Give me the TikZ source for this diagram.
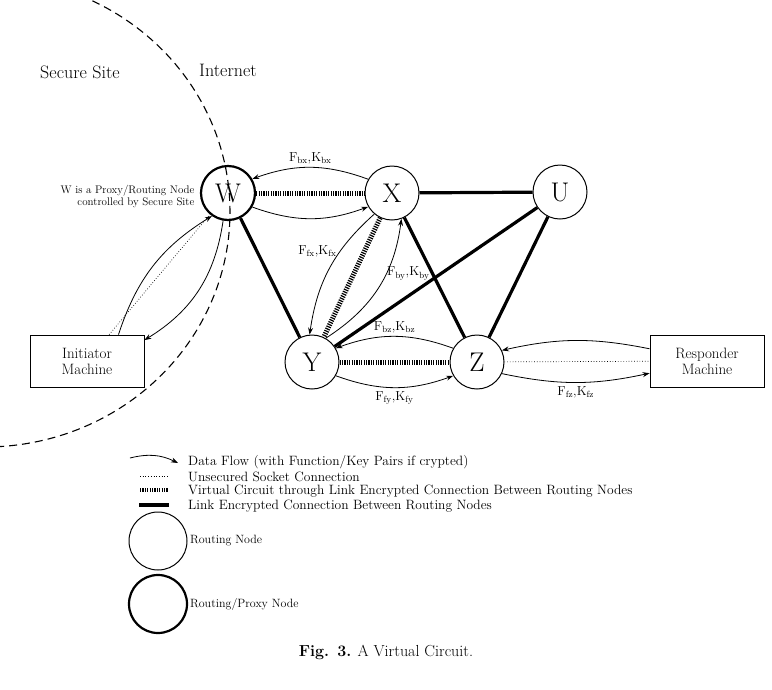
\documentclass[tikz,border=0pt]{standalone}
\usetikzlibrary{arrows.meta}
\begin{document}
\begin{tikzpicture}[x=1pt,y=-1pt,
 rn/.style={circle,draw,line width=1pt,minimum size=54pt,inner sep=0pt,font=\fontsize{27}{27}\selectfont},
 pn/.style={rn,line width=2.2pt},
 box/.style={draw,line width=0.8pt,minimum width=114pt,minimum height=52pt,align=center,font=\fontsize{15}{16}\selectfont},
 vc/.style={line width=5pt,dash pattern=on 1.2pt off 1.2pt},
 le/.style={line width=3.2pt},
 us/.style={line width=0.7pt,dotted},
 df/.style={-{Stealth[length=7pt,width=5pt]},line width=0.8pt},
 lab/.style={font=\fontsize{13}{13}\selectfont},
 lg/.style={font=\fontsize{13.5}{13}\selectfont,anchor=west,inner sep=0pt}]
\useasboundingbox (0,0) rectangle (772,689);
\draw[line width=1.1pt,dash pattern=on 8pt off 5pt] plot[domain=64:-88,samples=80,smooth] ({-15+245*cos(\x)},{212-235*sin(\x)});
\node[font=\fontsize{18}{18}\selectfont] (ss) at (80,72) {Secure Site};
\node[font=\fontsize{18}{18}\selectfont] (in) at (228,70) {Internet};
\node[font=\fontsize{11}{12}\selectfont,align=right,anchor=east] (wl) at (198,196) {W is a Proxy/Routing Node\\controlled by Secure Site};
\node[pn] (W) at (228,193) {W};
\node[rn] (X) at (392,193) {X};
\node[rn] (U) at (560,192) {U};
\node[rn] (Y) at (312,362) {Y};
\node[rn] (Z) at (477,362) {Z};
\node[box] (I) at (87,361) {Initiator\\Machine};
\node[box] (R) at (707,361) {Responder\\Machine};
\draw[vc] (W) -- (X);
\draw[vc] (X) -- (Y);
\draw[vc] (Y) -- (Z);
\draw[le] (X) -- (U);
\draw[le] (U) -- (Y);
\draw[le] (U) -- (Z);
\draw[le] (X) -- (Z);
\draw[le] (W) -- (Y);
\draw[us] (I) -- (W);
\draw[us] (Z) -- (R);
\draw[df] (W.-30) to[bend right=20] (X.-150);
\draw[df] (X.150) to[bend right=20] node[lab,above] {F$_{\mathrm{bx}}$,K$_{\mathrm{bx}}$} (W.30);
\draw[df] (Y.-30) to[bend right=20] node[lab,below] {F$_{\mathrm{fy}}$,K$_{\mathrm{fy}}$} (Z.-150);
\draw[df] (Z.150) to[bend right=20] node[lab,above] {F$_{\mathrm{bz}}$,K$_{\mathrm{bz}}$} (Y.30);
\draw[df] (X.-130) to[bend right=20] node[lab,left,pos=0.35] {F$_{\mathrm{fx}}$,K$_{\mathrm{fx}}$} (Y.95);
\draw[df] (Y.60) to[bend right=25] node[lab,pos=0.62,right=-3pt] {F$_{\mathrm{by}}$,K$_{\mathrm{by}}$} (X.-70);
\draw[df] (Z.-25) to[bend right=12] node[lab,below] {F$_{\mathrm{fz}}$,K$_{\mathrm{fz}}$} (R.-168);
\draw[df] (R.168) to[bend right=12] (Z.25);
\draw[df] (I.40) to[bend left=20] (W.-125);
\draw[df] (W.-100) to[bend left=25] (I.20);
% legend
\coordinate (a1) at (130,458); \coordinate (a2) at (178,463);
\draw[df] (a1) to[bend left=20] (a2);
\coordinate (b1) at (140,476); \coordinate (b2) at (168,476);
\draw[us] (b1) -- (b2);
\coordinate (c1) at (140,490); \coordinate (c2) at (168,490);
\draw[vc,line width=4pt] (c1) -- (c2);
\coordinate (d1) at (139,505); \coordinate (d2) at (169,505);
\draw[le] (d1) -- (d2);
\node[lg] (t1) at (188,462) {Data Flow (with Function/Key Pairs if crypted)};
\node[lg] (t2) at (188,477) {Unsecured Socket Connection};
\node[lg] (t3) at (188,491.5) {Virtual Circuit through Link Encrypted Connection Between Routing Nodes};
\node[lg] (t4) at (188,506) {Link Encrypted Connection Between Routing Nodes};
\node[rn,minimum size=58pt] (l1) at (158,541) {};
\node[pn,minimum size=58pt] (l2) at (158,604) {};
\node[lg,font=\fontsize{12}{12}\selectfont] (t5) at (190,541) {Routing Node};
\node[lg,font=\fontsize{12}{12}\selectfont] (t6) at (190,604) {Routing/Proxy Node};
\node[font=\fontsize{16}{16}\selectfont] (cap) at (386,652) {\textbf{Fig. 3.} A Virtual Circuit.};
\end{tikzpicture}
\end{document}
